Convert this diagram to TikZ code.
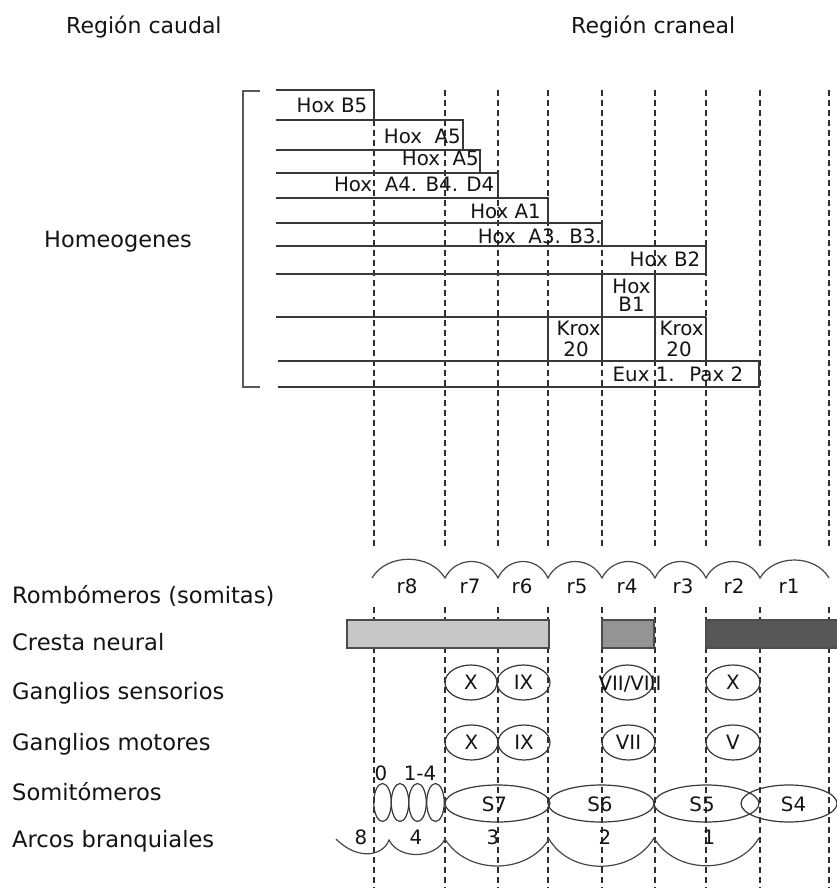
\documentclass[tikz,border=0pt]{standalone}
\usepackage{fontspec}
\setmainfont{DejaVu Sans}
\usetikzlibrary{shapes.geometric}
\begin{document}
\begin{tikzpicture}[x=1pt,y=-1pt,
  lbl/.style={font=\fontsize{22.6}{26}\selectfont, anchor=base west, inner sep=0pt, text=black!92},
  ttl/.style={font=\fontsize{22}{26}\selectfont, anchor=base west, inner sep=0pt, text=black!92},
  hox/.style={font=\fontsize{19.8}{22}\selectfont, inner sep=0pt, text=black!92},
  guide/.style={draw=black!82, line width=1.1pt, dash pattern=on 6pt off 4pt},
  rowline/.style={draw=black!78, line width=1.2pt},
  bar/.style={draw=black!70, line width=1.2pt},
  oval/.style={ellipse, draw=black!78, line width=1.2pt, inner sep=0pt, outer sep=0pt, font=\fontsize{19.8}{22}\selectfont, text=black!92},
  curve/.style={draw=black!72, line width=1.2pt}
]
\useasboundingbox (0,0) rectangle (837,888);
\fill[white] (0,0) rectangle (837,888);

% dashed guide lines
\foreach \i/\x in {0/374,1/445,2/498,3/548,4/602,5/655,6/706,7/760,8/829} {
  \coordinate (gt\i) at (\x,90);
  \coordinate (gm\i) at (\x,548);
  \coordinate (gl\i) at (\x,607);
  \coordinate (gb\i) at (\x,888);
  \draw[guide] (gt\i) -- (gm\i);
  \draw[guide] (gl\i) -- (gb\i);
}

% titles
\node[ttl] (tcaud) at (66,34) {Región caudal};
\node[ttl] (tcran) at (571,34) {Región craneal};
\node[ttl, font=\fontsize{22.4}{26}\selectfont] (thom) at (44,247) {Homeogenes};

% bracket
\draw[draw=black!65, line width=1.3pt] (260,91) -- (243,91) -- (243,387) -- (260,387);

% Hox rows
\draw[rowline] (276,90) -- (374,90) -- (374,120);
\draw[rowline] (276,120) -- (463,120) -- (463,150);
\draw[rowline] (276,150) -- (480,150) -- (480,173);
\draw[rowline] (276,173) -- (498,173) -- (498,198);
\draw[rowline] (276,198) -- (548,198) -- (548,223);
\draw[rowline] (276,223) -- (602,223) -- (602,246);
\draw[rowline] (276,246) -- (706,246) -- (706,274);
\draw[rowline] (276,274) -- (706,274);
\draw[rowline] (602,274) -- (602,317);
\draw[rowline] (655,274) -- (655,317);
\draw[rowline] (276,317) -- (706,317);
\draw[rowline] (548,317) -- (548,361);
\draw[rowline] (602,317) -- (602,361);
\draw[rowline] (655,317) -- (655,361);
\draw[rowline] (706,317) -- (706,361);
\draw[rowline] (278,361) -- (759,361) -- (759,387) -- (278,387);

\node[hox, anchor=base east] (h1) at (367.5,113) {Hox B5};
\node[hox, anchor=base east] (h2) at (461,143.5) {Hox~ A5};
\node[hox, anchor=base east] (h3) at (479,165.5) {Hox~ A5};
\node[hox, anchor=base east] (h4) at (494.5,191.5) {Hox~ A4. B4. D4};
\node[hox, anchor=base east] (h5) at (541,218.5) {Hox A1};
\node[hox, anchor=base east] (h6) at (602,243) {Hox~ A3. B3.};
\node[hox, anchor=base east] (h7) at (700.5,266) {Hox B2};
\node[hox, anchor=base] (h8a) at (631.5,293.5) {Hox};
\node[hox, anchor=base] (h8b) at (631.5,311.5) {B1};
\node[hox, anchor=base] (k1a) at (578.5,335) {Krox};
\node[hox, anchor=base] (k1b) at (576,356.5) {20};
\node[hox, anchor=base] (k2a) at (681.5,335) {Krox};
\node[hox, anchor=base] (k2b) at (679,356.5) {20};
\node[hox, anchor=base west] (eux) at (612.5,381.5) {Eux 1.~ Pax 2};

% left labels
\node[lbl] (lrom) at (12,603) {Rombómeros (somitas)};
\node[lbl] (lcre) at (12,650) {Cresta neural};
\node[lbl] (lgs) at (12,699) {Ganglios sensorios};
\node[lbl] (lgm) at (12,750) {Ganglios motores};
\node[lbl] (lsom) at (12,800) {Somitómeros};
\node[lbl] (larc) at (12,847) {Arcos branquiales};

% rhombomere arcs
\coordinate (c0) at (372,578);
\coordinate (c1) at (445,578);
\coordinate (c2) at (498,578);
\coordinate (c3) at (548,578);
\coordinate (c4) at (602,578);
\coordinate (c5) at (655,578);
\coordinate (c6) at (706,578);
\coordinate (c7) at (760,578);
\coordinate (c8) at (829,578);
\draw[curve] (c0) .. controls +(15,-25) and +(-15,-25) .. (c1)
  .. controls +(11,-22) and +(-11,-22) .. (c2)
  .. controls +(10,-22) and +(-10,-22) .. (c3)
  .. controls +(11,-22) and +(-11,-22) .. (c4)
  .. controls +(11,-22) and +(-11,-22) .. (c5)
  .. controls +(10,-22) and +(-10,-22) .. (c6)
  .. controls +(11,-22) and +(-11,-22) .. (c7)
  .. controls +(14,-24) and +(-14,-24) .. (c8);
\foreach \n/\x in {8/407,7/470,6/522,5/577,4/627,3/683,2/734,1/789}
  \node[hox, anchor=base] (r\n) at (\x,593) {r\n};

% neural crest bars
\draw[bar, fill=black!22] (347,620) rectangle (549,648);
\draw[bar, fill=black!42] (602,620) rectangle (654,648);
\draw[bar, fill=black!66] (706,620) rectangle (840,648);

% sensory ganglia
\node[oval, minimum width=52pt, minimum height=35pt] (gsX) at (471,682.5) {X};
\node[oval, minimum width=53pt, minimum height=35pt] (gsIX) at (523.5,682.5) {IX};
\node[oval, minimum width=51pt, minimum height=35pt] (gsVII) at (627.5,682.5) {};
\node[hox, anchor=base] (gsVIIt) at (630,690.5) {VII/VIII};
\node[oval, minimum width=54pt, minimum height=35pt] (gsX2) at (733,682.5) {X};

% motor ganglia
\node[oval, minimum width=53pt, minimum height=35pt] (gmX) at (471.5,742.5) {X};
\node[oval, minimum width=52pt, minimum height=35pt] (gmIX) at (524,742.5) {IX};
\node[oval, minimum width=53pt, minimum height=35pt] (gmVII) at (628.5,742.5) {VII};
\node[oval, minimum width=54pt, minimum height=35pt] (gmV) at (733,742.5) {V};

% somitomeres
\node[hox, anchor=base] (s0) at (381,780) {0};
\node[hox, anchor=base] (s14) at (420,780) {1-4};
\node[oval, minimum width=17.5pt, minimum height=38pt] (sm1) at (382.5,802.5) {};
\node[oval, minimum width=17.5pt, minimum height=38pt] (sm2) at (400,802.5) {};
\node[oval, minimum width=17.5pt, minimum height=38pt] (sm3) at (417.5,802.5) {};
\node[oval, minimum width=17.5pt, minimum height=38pt] (sm4) at (435.5,802.5) {};
\node[oval, minimum width=105pt, minimum height=37pt] (S7) at (497.5,803.5) {};
\node[oval, minimum width=106pt, minimum height=37pt] (S6) at (601,803.5) {};
\node[oval, minimum width=105pt, minimum height=37pt] (S5) at (706.5,803.5) {};
\node[oval, minimum width=96pt, minimum height=37pt] (S4) at (789,803.5) {};
\node[hox, anchor=base] (S7t) at (494.5,811.5) {S7};
\node[hox, anchor=base] (S6t) at (600,811.5) {S6};
\node[hox, anchor=base] (S5t) at (702,811.5) {S5};
\node[hox, anchor=base] (S4t) at (793.5,811.5) {S4};

% branchial arches
\coordinate (a0) at (336,839);
\coordinate (a1) at (389,840);
\coordinate (a2) at (445,839);
\coordinate (a3) at (549,839);
\coordinate (a4) at (654,838);
\coordinate (a5) at (759,838);
\draw[curve] (a0) .. controls +(22,22) and +(-6,16) .. (a1)
  .. controls +(10,20) and +(-10,20) .. (a2)
  .. controls +(22,36) and +(-22,36) .. (a3)
  .. controls +(22,37) and +(-22,37) .. (a4)
  .. controls +(22,37) and +(-22,37) .. (a5);
\foreach \n/\x in {8/361,4/416,3/493,2/605,1/709}
  \node[hox, anchor=base] (b\n) at (\x,844) {\n};
\end{tikzpicture}
\end{document}
